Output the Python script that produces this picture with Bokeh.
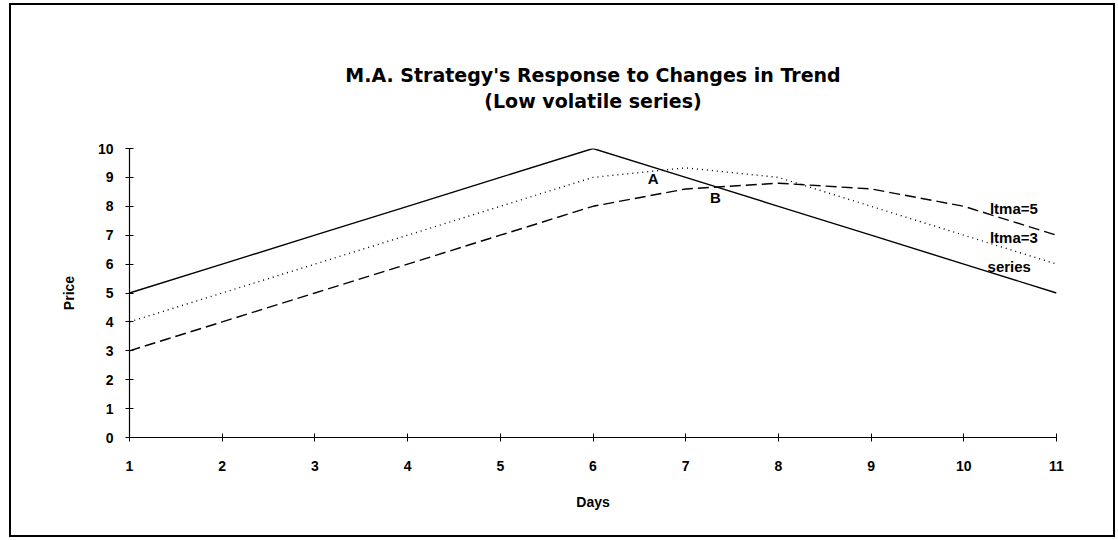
from bokeh.plotting import figure
from bokeh.models import Range1d, FixedTicker, Title, ColumnDataSource, LinearAxis
from bokeh.layouts import column
from bokeh.core.properties import value
from bokeh.embed import file_html
from bokeh.resources import INLINE

# ---- data ----
days = [1, 2, 3, 4, 5, 6, 7, 8, 9, 10, 11]
series = [5, 6, 7, 8, 9, 10, 9, 8, 7, 6, 5]
ltma3 = [4, 5, 6, 7, 8, 9, 9.33, 9, 8, 7, 6]
ltma5 = [3, 4, 5, 6, 7, 8, 8.6, 8.8, 8.6, 8, 7]
y_ticks = [0, 1, 2, 3, 4, 5, 6, 7, 8, 9, 10]

title_lines = ["M.A. Strategy's Response to Changes in Trend", "(Low volatile series)"]

point_labels = ["A", "B"]
point_x = [6.65, 7.32]
point_y = [8.96, 8.30]

line_labels = ["ltma=5", "ltma=3", "series"]
line_label_x = [10.54, 10.54, 10.49]
line_label_y = [7.92, 6.92, 5.92]

FONT = "Liberation Sans"
TFONT = "DejaVu Sans"

p = figure(width=1102, height=530, output_backend="svg", toolbar_location=None,
           x_range=Range1d(1, 11), y_range=Range1d(0, 10),
           min_border_left=118, min_border_right=57,
           min_border_top=143, min_border_bottom=98)
p.title = None
p.outline_line_color = None
p.xgrid.visible = False
p.ygrid.visible = False
p.background_fill_color = "white"
p.border_fill_color = "white"

xax = p.below[0]
yax = p.left[0]

# invisible spacer (white tick on white) between plot frame and the two title lines
spacer = LinearAxis(ticker=FixedTicker(ticks=[1]), axis_line_color=None,
                    major_tick_line_color="white", minor_tick_line_color=None,
                    major_tick_in=0, major_tick_out=36, major_label_standoff=0,
                    major_label_text_color=None, major_label_text_font_size="1px")
p.add_layout(spacer, "above")

t2 = Title(text=title_lines[1], align="center", vertical_align="bottom", text_font=TFONT,
           text_font_size="19px", text_font_style="bold", text_color="black", standoff=2)
t1 = Title(text=title_lines[0], align="center", vertical_align="bottom", text_font=TFONT,
           text_font_size="19px", text_font_style="bold", text_color="black", standoff=2)
p.add_layout(t2, "above")
p.add_layout(t1, "above")

for ax in (xax, yax):
    ax.axis_line_color = "black"
    ax.axis_line_width = 1.2
    ax.major_tick_line_color = "black"
    ax.major_tick_in = 4
    ax.major_tick_out = 4
    ax.minor_tick_line_color = None
    ax.major_label_text_font = FONT
    ax.major_label_text_font_size = "14px"
    ax.major_label_text_font_style = "bold"
    ax.major_label_text_color = "black"
    ax.axis_label_text_font = FONT
    ax.axis_label_text_font_size = "14px"
    ax.axis_label_text_font_style = "bold"
    ax.axis_label_text_color = "black"

xax.ticker = FixedTicker(ticks=days)
yax.ticker = FixedTicker(ticks=y_ticks)
xax.axis_label = "Days"
yax.axis_label = "Price"
xax.major_label_standoff = 19
yax.major_label_standoff = 12
xax.axis_label_standoff = 20
yax.axis_label_standoff = 18

p.line(days, ltma5, line_color="black", line_width=1.4, line_dash="11 5")
p.line(days, ltma3, line_color="black", line_width=1.4, line_dash="1 4")
p.line(days, series, line_color="black", line_width=1.4)

src_pts = ColumnDataSource(dict(x=point_x, y=point_y, t=point_labels))
p.text(x="x", y="y", text="t", source=src_pts, text_font=value(FONT),
       text_font_size="15px", text_font_style="bold", text_color="black",
       text_align="center", text_baseline="middle")

src_lbl = ColumnDataSource(dict(x=line_label_x, y=line_label_y, t=line_labels))
p.text(x="x", y="y", text="t", source=src_lbl, text_font=value(FONT),
       text_font_size="15px", text_font_style="bold", text_color="black",
       text_align="center", text_baseline="middle")

lay = column(p, styles={"border": "2px solid black", "margin-left": "9px", "margin-top": "3px"})

open("out.html", "w").write(file_html(lay, INLINE))
